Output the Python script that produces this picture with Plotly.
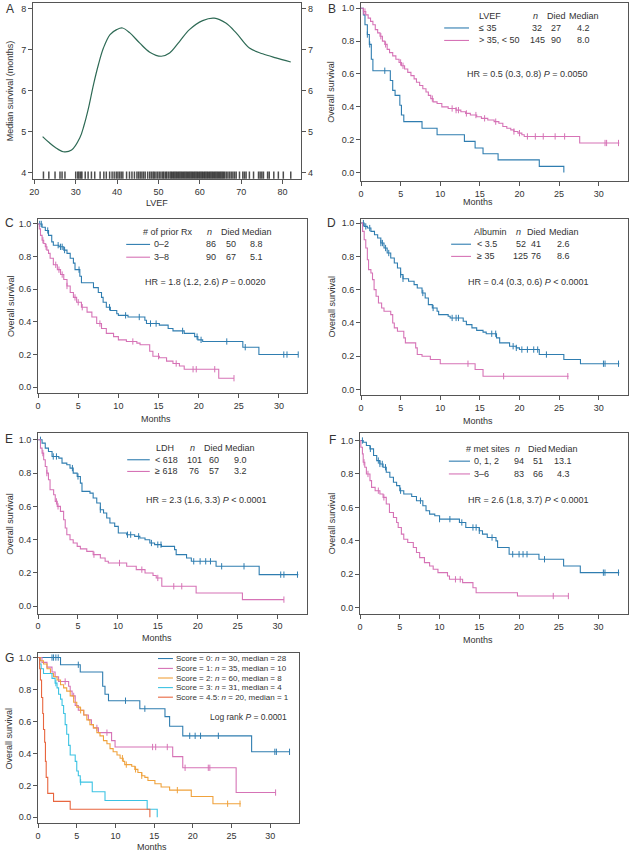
import plotly.graph_objects as go

W, H = 630, 853
FONT = "Liberation Sans, Arial, sans-serif"
TXT = "#333333"
AXC = "#555555"

BLUE = "#2f7db0"
PINK = "#d673b6"
G_COLORS = ["#2f7db0", "#d673b6", "#f0a23c", "#3cc3e3", "#e8663f"]

# ---------------- Panel A: median survival vs LVEF ----------------
a_lvef = [22, 23.5, 25, 27, 29, 31, 32, 33.1, 34.3, 35.5, 36.7, 38.3, 39.9, 41.3, 43.1, 45.5, 47.9,
          50.7, 52.7, 55.1, 57.5, 60.7, 63.5, 66.3, 68.8, 72.0, 75.2, 78.4, 82]
a_median = [4.88, 4.74, 4.62, 4.51, 4.55, 4.85, 5.15, 5.58, 6.15, 6.64, 7.04, 7.37, 7.49, 7.53, 7.41, 7.16, 6.94,
            6.84, 6.92, 7.20, 7.49, 7.71, 7.77, 7.65, 7.41, 7.04, 6.90, 6.80, 6.70]
lvef_rug = [22.2, 23.5, 25.0, 26.2, 26.7, 27.4, 30.0, 30.5, 30.8, 31.2, 31.5, 32.3, 33.0, 33.8, 34.6, 35.9,
            36.8, 37.4, 38.2, 38.8, 39.3, 39.8, 40.2, 40.6, 41.0, 41.4, 42.3, 43.0, 43.6, 44.2, 44.8, 45.2,
            45.6, 46.0, 46.4, 46.8, 47.4, 47.9, 48.3, 48.7, 49.0, 49.4, 49.8, 50.2, 50.6, 51.0, 51.3, 51.7,
            52.0, 52.4, 52.8, 53.1, 53.4, 53.7, 54.0, 54.3, 54.6, 54.9, 55.2, 55.5, 55.8, 56.1, 56.4, 56.7,
            57.0, 57.3, 57.6, 57.9, 58.2, 58.5, 58.8, 59.1, 59.4, 59.7, 60.0, 60.3, 60.6, 60.9, 61.2, 61.5,
            61.8, 62.1, 62.4, 62.7, 63.0, 63.3, 63.6, 63.9, 64.2, 64.5, 64.8, 65.1, 65.4, 65.7, 66.0, 66.4,
            66.8, 67.2, 67.6, 68.0, 68.4, 68.8, 69.6, 70.4, 70.8, 71.2, 72.0, 73.0, 74.2, 74.6, 75.0, 75.4,
            76.4, 76.8, 77.9, 79.0, 80.2, 82.0]
rug_level = 3.925

# ---------------- Panel B: LVEF ----------------
b_groups = ["\u2264 35", "> 35, < 50"]
b_n = [32, 145]
b_died = [27, 90]
b_median = ["4.2", "8.0"]
b_hr = "HR = 0.5 (0.3, 0.8) <i>P</i> = 0.0050"
b1_t = [0.3, 0.5, 0.8, 1.05, 1.3, 1.5, 3.7, 4.0, 4.3, 4.9, 5.1, 5.4, 7.7, 9.6, 13.05, 14.4, 15.4, 17.3, 22.5, 25.6]
b1_s = [0.96, 0.90, 0.84, 0.78, 0.69, 0.62, 0.56, 0.50, 0.47, 0.41, 0.35, 0.31, 0.27, 0.23, 0.19, 0.15, 0.115, 0.077, 0.038, 0.0]
b1_end = 25.6
b1_cens = [0.8, 1.1, 3.0]
b2_t = [0.3, 0.6, 0.9, 1.2, 1.5, 1.8, 2.1, 2.4, 2.7, 3.0, 3.3, 3.6, 4.0, 4.4, 4.8, 5.1, 5.5, 5.9, 6.3, 6.7, 7.0,
        7.4, 7.8, 8.2, 8.5, 8.8, 9.1, 9.6, 10.2, 11.0, 12.0, 12.6, 13.2, 13.8, 14.6, 15.2, 16.0, 16.8, 17.4,
        17.9, 18.4, 18.9, 19.3, 19.8, 20.3, 20.6, 27.6]
b2_s = [0.98, 0.96, 0.94, 0.92, 0.90, 0.87, 0.85, 0.83, 0.80, 0.78, 0.75, 0.73, 0.71, 0.69, 0.67, 0.65, 0.63,
        0.61, 0.59, 0.57, 0.55, 0.53, 0.51, 0.49, 0.47, 0.45, 0.43, 0.42, 0.40, 0.39, 0.38, 0.37, 0.36, 0.35,
        0.34, 0.33, 0.32, 0.31, 0.30, 0.28, 0.27, 0.26, 0.25, 0.24, 0.23, 0.22, 0.18]
b2_end = 32.6
b2_cens = [0.3, 0.5, 2.5, 3.1, 5.0, 5.3, 9.0, 11.5, 12.0, 12.3, 13.3, 14.5, 15.6, 17.0, 19.3, 20.0, 21.0,
           22.0, 23.0, 24.5, 25.7, 30.8, 31.0, 32.5]

# ---------------- Panel C: prior Rx ----------------
c_groups = ["0\u20132", "3\u20138"]
c_n = [86, 90]
c_died = [50, 67]
c_median = ["8.8", "5.1"]
c_hr = "HR = 1.8 (1.2, 2.6) <i>P</i> = 0.0020"
c1_t = [0.5, 0.9, 1.3, 1.7, 1.9, 2.6, 3.2, 3.6, 4.0, 4.4, 4.6, 5.2, 5.4, 6.9, 7.5, 7.9, 8.1, 8.5, 9.0, 9.8,
        10.0, 11.2, 13.3, 13.5, 15.1, 16.2, 16.8, 18.2, 19.5, 19.9, 20.5, 25.5, 27.5]
c1_s = [0.98, 0.96, 0.93, 0.89, 0.87, 0.86, 0.84, 0.82, 0.79, 0.76, 0.72, 0.68, 0.64, 0.61, 0.58, 0.55, 0.52,
        0.49, 0.47, 0.45, 0.44, 0.43, 0.41, 0.39, 0.38, 0.36, 0.345, 0.33, 0.31, 0.29, 0.28, 0.245, 0.20]
c1_end = 32.4
c1_cens = [0.2, 0.4, 1.2, 2.5, 2.8, 3.0, 3.3, 5.1, 8.9, 10.9, 12.6, 14.0, 14.7, 18.0, 19.8, 20.3, 23.5, 25.8,
           30.6, 31.0, 32.4]
c2_t = [0.15, 0.3, 0.5, 0.7, 0.9, 1.1, 1.3, 1.5, 1.9, 2.4, 2.8, 3.2, 3.6, 4.0, 4.4, 4.8, 5.4, 6.1, 6.7, 7.3,
        7.9, 8.5, 9.4, 10.0, 11.0, 12.3, 12.7, 13.9, 14.3, 15.1, 16.0, 16.8, 17.6, 18.2, 22.5]
c2_s = [0.97, 0.93, 0.90, 0.88, 0.86, 0.84, 0.82, 0.79, 0.75, 0.72, 0.69, 0.66, 0.62, 0.58, 0.55, 0.52, 0.49,
        0.46, 0.43, 0.39, 0.36, 0.33, 0.31, 0.29, 0.28, 0.27, 0.26, 0.22, 0.19, 0.18, 0.16, 0.145, 0.13, 0.11, 0.055]
c2_end = 24.4
c2_cens = [0.6, 1.0, 2.2, 2.6, 3.0, 3.6, 4.6, 5.0, 5.5, 7.7, 11.8, 15.0, 17.2, 19.3, 19.7, 22.0, 24.4]

# ---------------- Panel D: Albumin ----------------
d_groups = ["< 3.5", "\u2265 35"]
d_n = [52, 125]
d_died = [41, 76]
d_median = ["2.6", "8.6"]
d_hr = "HR = 0.4 (0.3, 0.6) <i>P</i> < 0.0001"
d1_t = [0.4, 0.8, 1.25, 1.7, 2.1, 2.5, 2.9, 3.3, 3.75, 4.2, 4.6, 5.0, 5.3, 6.0, 6.7, 7.1, 7.7, 8.1, 8.5, 9.0,
        9.6, 9.8, 11.0, 11.25, 12.9, 13.3, 14.0, 14.6, 15.4, 15.8, 17.1, 17.5, 18.75, 19.6, 20.0, 22.5, 25.6, 27.7]
d1_s = [0.98, 0.97, 0.95, 0.93, 0.91, 0.88, 0.85, 0.82, 0.79, 0.76, 0.73, 0.69, 0.665, 0.65, 0.63, 0.61, 0.58,
        0.55, 0.51, 0.49, 0.47, 0.45, 0.44, 0.43, 0.41, 0.39, 0.37, 0.355, 0.345, 0.335, 0.31, 0.28, 0.26, 0.25,
        0.24, 0.21, 0.18, 0.155]
d1_end = 32.6
d1_cens = [0.3, 0.6, 1.1, 2.5, 2.7, 3.1, 3.5, 5.0, 5.3, 7.8, 9.1, 11.5, 12.0, 12.3, 16.5, 17.0, 19.2, 19.6,
           20.3, 21.0, 21.8, 22.3, 23.4, 30.6, 30.8, 32.5]
d2_t = [0.2, 0.4, 0.6, 0.8, 0.95, 1.25, 1.45, 1.65, 1.9, 2.2, 2.6, 2.9, 3.75, 4.0, 4.2, 4.6, 5.4, 5.6, 6.9,
        7.1, 7.7, 8.75, 10.0, 14.4, 15.4]
d2_s = [0.95, 0.90, 0.85, 0.78, 0.72, 0.70, 0.66, 0.60, 0.56, 0.52, 0.49, 0.47, 0.45, 0.40, 0.37, 0.35, 0.31,
        0.28, 0.25, 0.21, 0.20, 0.18, 0.155, 0.12, 0.08]
d2_end = 26.2
d2_cens = [13.5, 18.0, 26.1]

# ---------------- Panel E: LDH ----------------
e_groups = ["< 618", "\u2265 618"]
e_n = [101, 76]
e_died = [60, 57]
e_median = ["9.0", "3.2"]
e_hr = "HR = 2.3 (1.6, 3.3) <i>P</i> < 0.0001"
e1_t = [0.5, 0.9, 1.3, 1.75, 2.6, 3.0, 3.6, 4.0, 4.4, 4.9, 5.3, 5.5, 6.5, 6.9, 7.35, 7.8, 8.2, 8.6, 9.0, 9.6,
        10.05, 11.1, 12.1, 12.75, 13.4, 14.0, 14.6, 15.45, 17.1, 17.3, 18.6, 19.2, 22.3, 27.7]
e1_s = [0.98, 0.95, 0.93, 0.90, 0.89, 0.86, 0.85, 0.83, 0.80, 0.78, 0.74, 0.69, 0.68, 0.65, 0.62, 0.58, 0.56,
        0.53, 0.50, 0.48, 0.44, 0.43, 0.42, 0.41, 0.40, 0.38, 0.37, 0.36, 0.34, 0.31, 0.29, 0.27, 0.24, 0.19]
e1_end = 32.6
e1_cens = [0.3, 1.9, 2.3, 4.3, 5.0, 7.8, 11.2, 11.6, 12.6, 14.2, 15.0, 15.4, 19.5, 20.3, 21.0, 21.6, 23.0,
           25.8, 30.4, 30.8, 32.5]
e2_t = [0.3, 0.5, 0.7, 0.9, 1.1, 1.3, 1.5, 1.95, 2.15, 2.4, 2.8, 3.2, 3.4, 3.6, 4.0, 4.4, 4.9, 5.3, 6.1, 6.9,
        7.8, 8.4, 8.8, 11.1, 12.3, 13.4, 14.4, 14.8, 15.5, 19.8, 25.6]
e2_s = [0.95, 0.92, 0.88, 0.84, 0.80, 0.76, 0.70, 0.67, 0.63, 0.60, 0.57, 0.52, 0.47, 0.43, 0.40, 0.38, 0.36,
        0.345, 0.33, 0.31, 0.29, 0.27, 0.26, 0.24, 0.22, 0.20, 0.185, 0.17, 0.12, 0.08, 0.04]
e2_end = 30.8
e2_cens = [0.6, 1.1, 2.3, 2.5, 7.0, 10.2, 13.0, 15.0, 17.0, 18.0, 30.8]

# ---------------- Panel F: met sites ----------------
f_groups = ["0, 1, 2", "3\u20136"]
f_n = [94, 83]
f_died = [51, 66]
f_median = ["13.1", "4.3"]
f_hr = "HR = 2.6 (1.8, 3.7) <i>P</i> < 0.0001"
f1_t = [0.4, 0.8, 1.25, 1.7, 2.1, 2.5, 2.9, 3.3, 3.75, 4.2, 4.6, 5.0, 5.5, 6.5, 7.1, 7.9, 8.3, 8.75, 9.4, 10.0,
        12.5, 13.3, 15.0, 15.4, 16.0, 17.1, 17.3, 18.75, 22.5, 25.6, 27.7]
f1_s = [0.99, 0.97, 0.95, 0.91, 0.88, 0.86, 0.84, 0.81, 0.78, 0.75, 0.73, 0.70, 0.68, 0.665, 0.64, 0.61, 0.58,
        0.56, 0.55, 0.53, 0.51, 0.48, 0.46, 0.44, 0.42, 0.40, 0.36, 0.32, 0.29, 0.25, 0.21]
f1_end = 32.6
f1_cens = [0.3, 1.3, 2.3, 2.5, 2.8, 3.2, 5.1, 7.6, 10.0, 11.3, 12.8, 14.2, 14.6, 15.0, 16.6, 19.2, 20.0, 20.5,
           21.0, 23.2, 30.6, 30.8, 32.5]
f2_t = [0.1, 0.3, 0.4, 0.6, 0.8, 1.25, 1.45, 1.9, 2.5, 2.9, 3.3, 3.7, 4.2, 4.6, 4.8, 5.2, 5.5, 6.0, 6.7, 7.1,
        7.5, 8.1, 8.75, 9.2, 9.8, 11.0, 11.25, 12.9, 14.2, 14.6, 19.8]
f2_s = [0.96, 0.92, 0.87, 0.84, 0.80, 0.76, 0.72, 0.70, 0.68, 0.66, 0.62, 0.57, 0.54, 0.51, 0.48, 0.44, 0.41,
        0.39, 0.36, 0.33, 0.30, 0.27, 0.25, 0.23, 0.21, 0.19, 0.17, 0.15, 0.12, 0.09, 0.07]
f2_end = 26.25
f2_cens = [0.5, 1.0, 2.3, 3.0, 12.0, 12.6, 24.3, 26.2]

# ---------------- Panel G: prognostic score ----------------
g_labels = ["Score = 0: <i>n</i> = 30, median = 28",
            "Score = 1: <i>n</i> = 35, median = 10",
            "Score = 2: <i>n</i> = 60, median = 8",
            "Score = 3: <i>n</i> = 31, median = 4",
            "Score = 4.5: <i>n</i> = 20, median = 1"]
g_logrank = "Log rank <i>P</i> = 0.0001"
g0_t = [2.9, 5.45, 8.35, 8.65, 9.1, 13.15, 16.4, 17.0, 18.7, 27.6]
g0_s = [0.955, 0.91, 0.82, 0.77, 0.73, 0.68, 0.63, 0.57, 0.51, 0.41]
g0_end = 32.5
g0_cens = [1.8, 2.0, 2.3, 2.6, 5.2, 11.3, 13.8, 19.6, 20.3, 21.0, 23.3, 30.6, 30.8, 32.5]
g1_t = [0.5, 1.15, 1.8, 2.2, 2.65, 3.95, 4.15, 4.4, 4.8, 5.2, 5.9, 6.5, 6.9, 7.15, 7.8, 9.5, 9.95, 17.4, 18.7, 25.6]
g1_s = [0.97, 0.94, 0.91, 0.88, 0.85, 0.82, 0.79, 0.76, 0.70, 0.67, 0.64, 0.61, 0.58, 0.56, 0.53, 0.48, 0.44,
        0.38, 0.31, 0.155]
g1_end = 30.7
g1_cens = [3.5, 4.6, 7.6, 8.9, 14.8, 15.2, 16.7, 19.0, 22.0, 22.2, 30.7]
g2_t = [0.3, 0.7, 1.15, 1.6, 2.0, 2.45, 2.9, 3.3, 3.7, 4.15, 4.6, 5.0, 5.45, 5.9, 6.3, 6.7, 7.15, 7.6, 8.0,
        8.45, 8.9, 9.3, 9.7, 10.2, 10.6, 11.0, 11.2, 12.1, 12.5, 12.9, 13.4, 13.8, 14.2, 15.1, 15.9, 17.0, 19.8, 22.6]
g2_s = [0.98, 0.96, 0.93, 0.90, 0.88, 0.86, 0.83, 0.81, 0.79, 0.76, 0.72, 0.69, 0.67, 0.64, 0.61, 0.58, 0.56,
        0.53, 0.51, 0.48, 0.46, 0.43, 0.41, 0.39, 0.37, 0.35, 0.33, 0.32, 0.30, 0.28, 0.26, 0.25, 0.23, 0.21,
        0.19, 0.17, 0.13, 0.085]
g2_end = 26.2
g2_cens = [5.5, 10.9, 11.4, 12.6, 13.4, 18.0, 24.5, 26.1]
g3_t = [0.2, 0.4, 0.7, 1.8, 2.2, 2.45, 2.65, 2.9, 3.1, 3.3, 3.5, 3.7, 3.95, 4.15, 4.8, 5.0, 5.2, 5.45, 7.0,
        8.65, 14.1, 15.4]
g3_s = [0.96, 0.93, 0.90, 0.87, 0.84, 0.81, 0.77, 0.74, 0.70, 0.65, 0.58, 0.52, 0.45, 0.39, 0.35, 0.29, 0.26,
        0.22, 0.16, 0.105, 0.05, 0.0]
g3_end = 15.4
g3_cens = [2.3, 5.5]
g4_t = [0.2, 0.3, 0.45, 0.6, 0.7, 0.85, 0.95, 1.05, 1.25, 2.0, 4.15, 14.45]
g4_s = [0.93, 0.86, 0.75, 0.65, 0.55, 0.47, 0.35, 0.25, 0.15, 0.10, 0.05, 0.0]
g4_end = 14.45
g4_cens = []


def px(x):
    return x / W


def py(y):
    return 1 - y / H


def surv_at(t, times, surv):
    v = 1.0
    for ti, si in zip(times, surv):
        if ti <= t:
            v = si
    return v


fig = go.Figure()


def add_km(t, s, end, cens, color, xa, ya):
    xs = [0] + list(t) + [end]
    ys = [1.0] + list(s) + [s[-1]]
    fig.add_trace(go.Scatter(x=xs, y=ys, mode="lines", line=dict(color=color, width=1.1, shape="hv"),
                             xaxis=xa, yaxis=ya, showlegend=False, hoverinfo="skip"))
    if cens:
        fig.add_trace(go.Scatter(x=cens, y=[surv_at(c, t, s) for c in cens], mode="markers",
                                 marker=dict(symbol="line-ns", size=4.5, line=dict(color=color, width=1)),
                                 xaxis=xa, yaxis=ya, showlegend=False, hoverinfo="skip"))


# Panel A traces
fig.add_trace(go.Scatter(x=lvef_rug, y=[rug_level] * len(lvef_rug), mode="markers",
                         marker=dict(symbol="line-ns", size=6, line=dict(color="rgba(0,0,0,0.7)", width=1.5)),
                         xaxis="x", yaxis="y", showlegend=False, hoverinfo="skip"))
fig.add_trace(go.Scatter(x=a_lvef, y=a_median, mode="lines", line=dict(color="#2e6a55", width=1.2, shape="spline"),
                         xaxis="x", yaxis="y", showlegend=False, hoverinfo="skip"))
fig.add_trace(go.Scatter(x=a_lvef, y=a_median, mode="lines", line=dict(width=0), opacity=0,
                         xaxis="x", yaxis="y8", showlegend=False, hoverinfo="skip"))

add_km(b1_t, b1_s, b1_end, b1_cens, BLUE, "x2", "y2")
add_km(b2_t, b2_s, b2_end, b2_cens, PINK, "x2", "y2")
add_km(c1_t, c1_s, c1_end, c1_cens, BLUE, "x3", "y3")
add_km(c2_t, c2_s, c2_end, c2_cens, PINK, "x3", "y3")
add_km(d1_t, d1_s, d1_end, d1_cens, BLUE, "x4", "y4")
add_km(d2_t, d2_s, d2_end, d2_cens, PINK, "x4", "y4")
add_km(e1_t, e1_s, e1_end, e1_cens, BLUE, "x5", "y5")
add_km(e2_t, e2_s, e2_end, e2_cens, PINK, "x5", "y5")
add_km(f1_t, f1_s, f1_end, f1_cens, BLUE, "x6", "y6")
add_km(f2_t, f2_s, f2_end, f2_cens, PINK, "x6", "y6")
g_data = [(g0_t, g0_s, g0_end, g0_cens), (g1_t, g1_s, g1_end, g1_cens), (g2_t, g2_s, g2_end, g2_cens),
          (g3_t, g3_s, g3_end, g3_cens), (g4_t, g4_s, g4_end, g4_cens)]
for (t, s, e, c), col in zip(g_data, G_COLORS):
    add_km(t, s, e, c, col, "x7", "y7")


def axis(dom, rng, anchor, **kw):
    d = dict(domain=dom, range=rng, anchor=anchor, showline=True, mirror=True, linecolor=AXC, linewidth=1,
             ticks="outside", ticklen=4, tickwidth=1, tickcolor=AXC, tickfont=dict(size=9, color=TXT, family=FONT),
             showgrid=False, zeroline=False)
    d.update(kw)
    return d


km_y = dict(tickvals=[0, 0.2, 0.4, 0.6, 0.8, 1.0], tickformat=".1f")
km_x = dict(tickvals=[0, 5, 10, 15, 20, 25, 30])

panels = {
    # name: (x0, x1, y0, y1, xrange, yrange)
    "2": (359.3, 628, 2, 180, [0, 33.7], [-0.050, 1.032]),
    "3": (34.3, 305, 218, 392.7, [0, 33.5], [-0.037, 1.032]),
    "4": (359.3, 628, 218, 394.3, [0, 33.7], [-0.032, 1.026]),
    "5": (34.3, 305, 433, 613.3, [0, 33.7], [-0.044, 1.038]),
    "6": (358.3, 628, 433, 614, [0, 33.7], [-0.039, 1.042]),
    "7": (34.3, 296.7, 652.7, 822.7, [0, 33.7], [-0.034, 1.029]),
}

layout = dict(width=W, height=H, margin=dict(l=0, r=0, t=0, b=0), paper_bgcolor="white", plot_bgcolor="white",
              font=dict(family=FONT, size=9, color=TXT), showlegend=False)
layout["xaxis"] = axis([px(29.3), px(299)], [19.7, 84.5], "y", tickvals=[20, 30, 40, 50, 60, 70, 80])
layout["yaxis"] = axis([py(178), py(2)], [3.85, 8.14], "x", tickvals=[4, 5, 6, 7, 8])
layout["yaxis8"] = dict(overlaying="y", side="right", anchor="x", range=[3.85, 8.14], tickvals=[4, 5, 6, 7, 8],
                        ticks="outside", ticklen=4, tickcolor=AXC, showline=False, showgrid=False, zeroline=False,
                        tickfont=dict(size=9, color=TXT, family=FONT))
for k, (x0, x1, y0, y1, xr, yr) in panels.items():
    layout["xaxis" + k] = axis([px(x0), px(x1)], xr, "y" + k, **km_x)
    layout["yaxis" + k] = axis([py(y1), py(y0)], yr, "x" + k, **km_y)

ann = []
shapes = []


def text(x, y, s, anchor="center", size=9, angle=0):
    ann.append(dict(x=px(x), y=py(y), xref="paper", yref="paper", text=s, showarrow=False, xanchor=anchor,
                    yanchor="middle", textangle=angle, borderpad=0, font=dict(size=size, color=TXT, family=FONT)))


def seg(x0, x1, y, color):
    shapes.append(dict(type="line", xref="paper", yref="paper", x0=px(x0), x1=px(x1), y0=py(y), y1=py(y),
                       line=dict(color=color, width=1.1)))


# panel letters
for letter, (lx, ly) in zip("ABCDEFG", [(6.5, 8), (330, 8), (5.5, 222.5), (330, 222), (5.5, 439), (331, 440), (5.5, 657.5)]):
    text(lx, ly, letter, size=12)

# axis titles
text(5.5, 90, "Median survival (months)", angle=-90)
text(154, 202, "LVEF")
for (cx, cy) in [(477, 201.7), (152.5, 418), (477, 420), (154, 637.7), (477, 640)]:
    text(cx, cy, "Months")
ann.append(dict(x=px(149), y=0.0, xref="paper", yref="paper", text="Months", showarrow=False, xanchor="center",
                yanchor="bottom", borderpad=0, yshift=0, font=dict(size=9, color=TXT, family=FONT)))
for (cx, cy) in [(329, 91), (6.3, 305), (330, 306), (6.3, 523), (330, 523), (5.5, 738)]:
    text(cx, cy, "Overall survival", angle=-90)


def table(title, groups, n, died, med, hr, xs, ys, line_x, hr_pos):
    hx, nx, dx, mx, gx = xs
    text(hx, ys[0], title, anchor="left")
    text(nx, ys[0], "<i>n</i>")
    text(dx, ys[0], "Died")
    text(mx, ys[0], "Median")
    for i, col in enumerate([BLUE, PINK]):
        yy = ys[i + 1]
        seg(line_x[0], line_x[1], yy, col)
        text(gx, yy, groups[i], anchor="left")
        text(nx + 2, yy, str(n[i]))
        text(dx, yy, str(died[i]))
        text(mx, yy, med[i])
    text(hr_pos[0], hr_pos[1], hr)


table("LVEF", b_groups, b_n, b_died, b_median, b_hr, (476.7, 534.7, 556, 583.5, 476.7), (15, 27, 39.5),
      (443, 468), (527, 73))
table("# of prior Rx", c_groups, c_n, c_died, c_median, c_hr, (139, 206.5, 228, 254.5, 150), (231.7, 243.7, 256.5),
      (123, 147), (203, 281.7))
table("Albumin", d_groups, d_n, d_died, d_median, d_hr, (471.7, 518, 535.5, 563.3, 475), (231.7, 243.5, 255.7),
      (450, 470), (528.3, 281.7))
table("LDH", e_groups, e_n, e_died, e_median, e_hr, (151.7, 189.5, 211, 238, 150.7), (447.7, 459.3, 471),
      (124, 146.7), (203.3, 500))
table("# met sites", f_groups, f_n, f_died, f_median, f_hr, (464.3, 516.5, 537, 562.7, 471.7), (448.3, 460.7, 473.5),
      (447.7, 469), (527.7, 500))

# G legend
for i, (lab, col) in enumerate(zip(g_labels, G_COLORS)):
    yy = [658.3, 668.2, 677.8, 687.4, 697.0][i]
    seg(155, 170, yy, col)
    text(172.5, yy, lab, anchor="left", size=8)
text(285.5, 716.7, g_logrank, anchor="right", size=8.5)

layout["annotations"] = ann
layout["shapes"] = shapes
fig.update_layout(**layout)
fig.write_html("out.html", config={"displayModeBar": False},
               post_script="document.body.style.margin='0px';document.body.style.overflow='hidden';")
